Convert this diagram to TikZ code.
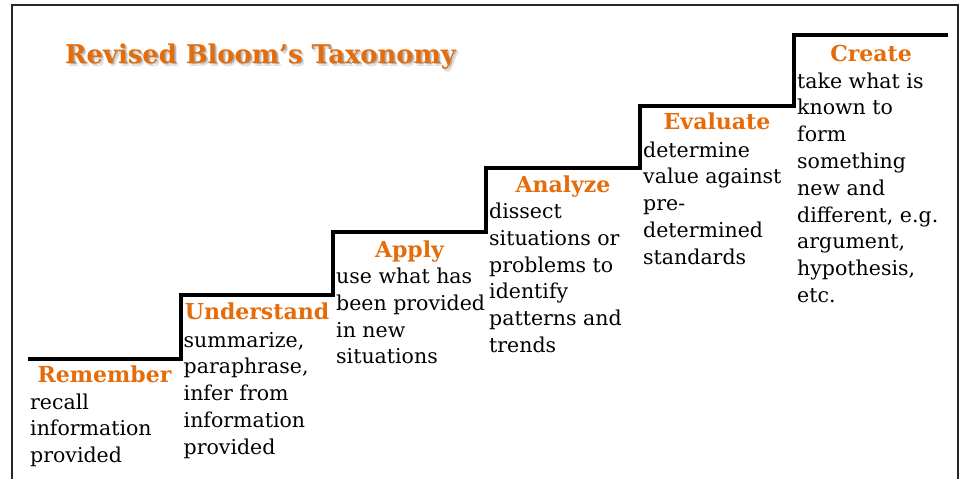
\documentclass[tikz,border=0pt]{standalone}
\usepackage{fontspec}
\setmainfont{DejaVu Serif}
\usetikzlibrary{calc}
\definecolor{bloomorange}{RGB}{228,108,10}
% left-aligned block whose baseline is the baseline of its first line
\newcommand{\levelbody}[1]{\begin{tabular}[t]{@{}l@{}}#1\end{tabular}}

\begin{document}
\begin{tikzpicture}[x=1pt,y=-1pt,
  frame/.style={line width=2pt, draw=black!85},
  stair/.style={line width=4.6pt, line join=miter},
  titletext/.style={font=\fontsize{25.8}{30}\selectfont\bfseries, inner sep=0, anchor=base west},
  levelhead/.style={font=\fontsize{22}{26}\selectfont\bfseries, text=bloomorange, inner sep=0, anchor=base},
  levelbodytext/.style={font=\fontsize{20.5}{26.8}\selectfont, inner sep=0, anchor=base west},
]
\useasboundingbox (0,0) rectangle (964,479);

% outer frame, open at the bottom
\draw[frame] (11.5,479) -- (11.5,5) -- (958,5) -- (958,479);

% treads of the staircase
\coordinate (t1a) at (28,359);  \coordinate (t1b) at (181,359);
\coordinate (t2a) at (181,295); \coordinate (t2b) at (333,295);
\coordinate (t3a) at (333,232); \coordinate (t3b) at (486,232);
\coordinate (t4a) at (486,168); \coordinate (t4b) at (640,168);
\coordinate (t5a) at (640,106); \coordinate (t5b) at (794,106);
\coordinate (t6a) at (794,35);  \coordinate (t6b) at (948,35);

\draw[stair] (t1a) -- (t1b) -- (t2a) -- (t2b) -- (t3a) -- (t3b) -- (t4a)
  -- (t4b) -- (t5a) -- (t5b) -- (t6a) -- (t6b);

% title with a soft drop shadow
\node[titletext, text=black, opacity=.12] (titleshadow2) at (67.5,66) {Revised Bloom’s Taxonomy};
\node[titletext, text=black, opacity=.22] (titleshadow) at (66.5,64.8) {Revised Bloom’s Taxonomy};
\node[titletext, text=bloomorange] (title) at (65,63) {Revised Bloom’s Taxonomy};

% level names, centred on their treads
\node[levelhead] (h1) at ($(t1a)!.5!(t1b)+(0,23)$) {Remember};
\node[levelhead] (h2) at ($(t2a)!.5!(t2b)+(0,24.5)$) {Understand};
\node[levelhead] (h3) at ($(t3a)!.5!(t3b)+(0,25.5)$) {Apply};
\node[levelhead] (h4) at ($(t4a)!.5!(t4b)+(0,24.5)$) {Analyze};
\node[levelhead] (h5) at ($(t5a)!.5!(t5b)+(0,23.5)$) {Evaluate};
\node[levelhead] (h6) at ($(t6a)!.5!(t6b)+(0,26)$) {Create};

% descriptions under each level name
\node[levelbodytext] (b1) at ($(t1a)+(2,50)$)
  {\levelbody{recall\\information\\provided}};
\node[levelbodytext] (b2) at ($(t2a)+(2.5,52)$)
  {\levelbody{summarize,\\paraphrase,\\infer from\\information\\provided}};
\node[levelbodytext] (b3) at ($(t3a)+(3,51.5)$)
  {\levelbody{use what has\\been provided\\in new\\situations}};
\node[levelbodytext] (b4) at ($(t4a)+(3,50.5)$)
  {\levelbody{dissect\\situations or\\problems to\\identify\\patterns and\\trends}};
\node[levelbodytext] (b5) at ($(t5a)+(3,51)$)
  {\levelbody{determine\\value against\\pre-\\determined\\standards}};
\node[levelbodytext] (b6) at ($(t6a)+(3,53)$)
  {\levelbody{take what is\\known to\\form\\something\\new and\\different, e.g.\\argument,\\hypothesis,\\etc.}};
\end{tikzpicture}
\end{document}
